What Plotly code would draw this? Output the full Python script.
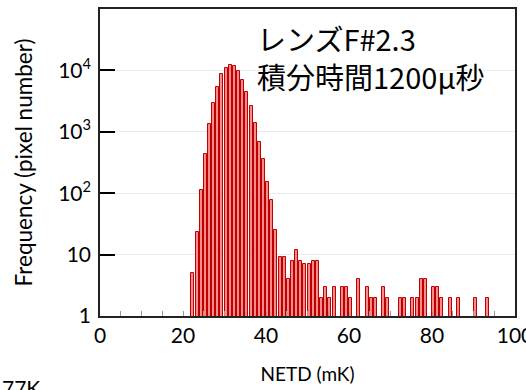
import plotly.graph_objects as go

# NETD bins (mK) and pixel counts
bins = list(range(22, 94))
counts = [
    5, 23, 114, 437, 1350, 3000, 5460, 8700, 10850, 12300,   # 22-31
    12000, 9800, 7050, 4420, 2650, 1390, 675, 360, 155, 78,   # 32-41
    25, 9, 9, 4, 8, 12, 8, 7, 7, 8,                           # 42-51
    8, 2, 3, 2, 3, 0, 3, 3, 2, 0,                             # 52-61
    4, 0, 3, 2, 2, 0, 3, 2, 0, 0,                             # 62-71
    2, 2, 0, 2, 2, 4, 4, 0, 3, 3,                             # 72-81
    2, 0, 2, 0, 2, 0, 0, 0, 2, 0,                             # 82-91
    0, 2,                                                     # 92-93
]

x_ticks = [0, 20, 40, 60, 80, 100]
y_ticks = [1, 10, 100, 1000, 10000]
y_ticktext = ["1", "10", "10<sup>2</sup>", "10<sup>3</sup>", "10<sup>4</sup>"]

x_title = "NETD (mK)"
y_title = "Frequency (pixel number)"
note_lines = ["レンズF#2.3", "積分時間1200μ秒"]
corner_text = "77K"

plot_x = [b for b, c in zip(bins, counts) if c > 0]
plot_y = [c for c in counts if c > 0]

font_main = "Lato, 'Noto Sans', sans-serif"

fig = go.Figure(
    go.Bar(
        x=plot_x,
        y=plot_y,
        width=0.72,
        offset=0.03,
        marker=dict(color="#f48c8c", line=dict(color="#c00000", width=1)),
    )
)

fig.update_layout(
    width=526,
    height=390,
    margin=dict(l=100, r=11, t=9, b=74),
    paper_bgcolor="white",
    plot_bgcolor="white",
    showlegend=False,
    bargap=0,
    font=dict(family=font_main, size=21, color="black"),
    xaxis=dict(
        automargin=False,
        range=[0, 100],
        tickvals=x_ticks,
        ticktext=[str(v) for v in x_ticks],
        ticks="inside",
        ticklen=5,
        tickwidth=1,
        tickcolor="#999999",
        minor=dict(dtick=5, ticks="inside", ticklen=5, tickcolor="#999999", tickwidth=1),
        ticklabeloverflow="allow",
        showgrid=False,
        zeroline=False,
        showline=True,
        linecolor="#222222",
        linewidth=2,
        mirror=True,
        tickfont=dict(size=21),
        title=dict(text=x_title, font=dict(size=19), standoff=21),
    ),
    yaxis=dict(
        automargin=False,
        type="log",
        range=[0, 5],
        tickvals=y_ticks,
        ticktext=y_ticktext,
        ticks="inside",
        ticklen=15,
        tickwidth=1.5,
        tickcolor="black",
        showgrid=True,
        gridcolor="#ebebeb",
        gridwidth=1,
        zeroline=False,
        showline=True,
        linecolor="#222222",
        linewidth=1.5,
        mirror=True,
        ticklabelstandoff=3,
        tickfont=dict(size=21),
        title=dict(text=y_title, font=dict(size=22.5), standoff=19),
    ),
    annotations=[
        dict(
            text="<br>".join(note_lines),
            xref="x", yref="paper",
            x=37.4, y=0.981,
            xanchor="left", yanchor="top",
            align="left",
            showarrow=False,
            font=dict(family="'Noto Sans CJK JP', sans-serif", size=29, color="black"),
        ),
        dict(
            text=corner_text,
            xref="paper", yref="paper",
            x=-0.241, y=-0.186,
            xanchor="left", yanchor="top",
            showarrow=False,
            font=dict(family=font_main, size=21, color="black"),
        ),
    ],
)

fig.write_html(
    "out.html",
    config={"displayModeBar": False},
    post_script="document.body.style.margin='0';",
)
